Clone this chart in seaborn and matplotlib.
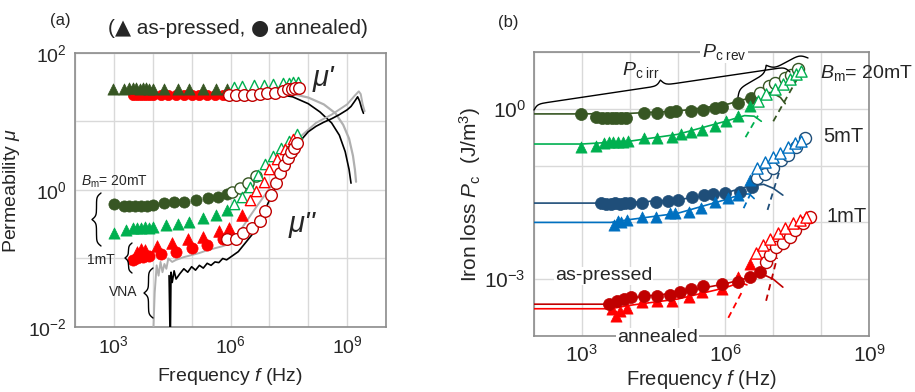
import numpy as np
import pandas as pd
import matplotlib
matplotlib.use("Agg")
import matplotlib.pyplot as plt
import seaborn as sns
from matplotlib.ticker import FixedLocator, FuncFormatter, NullLocator
from matplotlib.offsetbox import TextArea, HPacker, AnnotationBbox

# ---------------- DATA (log10 of frequency / value) -------------
# Panel (a): permeability
# mu' (real part)
mu1_ap_f = [2.97, 3.26, 3.38, 3.5, 3.58, 3.66, 3.74, 3.82, 3.9, 4.0, 4.28, 4.64, 4.92, 5.28, 5.62, 5.92]
mu1_ap_v = [1.48, 1.48, 1.49, 1.49, 1.49, 1.48, 1.49, 1.49, 1.48, 1.48, 1.48, 1.48, 1.48, 1.48, 1.48, 1.48]
mu1_ap_open_f = [6.08, 6.3, 6.6, 6.85, 7.1, 7.35, 7.5, 7.62, 7.74]
mu1_ap_open_v = [1.50, 1.52, 1.53, 1.54, 1.55, 1.56, 1.56, 1.57, 1.57]
mu1_an_f = [3.5, 3.6, 3.7, 3.8, 3.9, 4.0, 4.2, 4.4, 4.6, 4.8, 5.0, 5.2, 5.4, 5.6, 5.8, 6.0]
mu1_an_v = [1.39, 1.39, 1.39, 1.39, 1.39, 1.39, 1.39, 1.39, 1.39, 1.39, 1.39, 1.39, 1.39, 1.39, 1.39, 1.39]
mu1_an_open_f = [5.95, 6.15, 6.35, 6.55, 6.75, 6.95, 7.15, 7.35, 7.47, 7.57, 7.66, 7.75]
mu1_an_open_v = [1.38, 1.38, 1.39, 1.39, 1.40, 1.41, 1.42, 1.45, 1.47, 1.48, 1.49, 1.49]
# mu'' (imaginary part) 20 mT annealed / as-pressed
mu2_an20_f = [3.0, 3.26, 3.4, 3.55, 3.7, 3.85, 4.0, 4.28, 4.54, 4.8, 5.1, 5.41, 5.67, 5.92]
mu2_an20_v = [-0.2, -0.23, -0.23, -0.23, -0.23, -0.23, -0.22, -0.19, -0.18, -0.17, -0.15, -0.12, -0.1, -0.06]
mu2_an20_open_f = [6.05, 6.25, 6.45, 6.65]
mu2_an20_open_v = [-0.03, 0.03, 0.1, 0.2]
mu2_ap20_f = [3.0, 3.3, 3.5, 3.6, 3.7, 3.8, 3.9, 4.0, 4.33, 4.64, 4.92, 5.28, 5.62, 5.92]
mu2_ap20_v = [-0.63, -0.58, -0.56, -0.55, -0.55, -0.54, -0.55, -0.54, -0.51, -0.49, -0.46, -0.41, -0.36, -0.29]
mu2_ap20_open_f = [6.1, 6.3, 6.5, 6.7, 6.9, 7.1, 7.3, 7.5, 7.7]
mu2_ap20_open_v = [-0.2, -0.1, 0.05, 0.22, 0.38, 0.5, 0.62, 0.72, 0.82]
# mu'' 1 mT
mu2_ap1_f = [3.6, 3.7, 3.8, 4.1, 4.5, 4.9, 5.3, 5.7, 5.95, 6.3]
mu2_ap1_v = [-0.9, -0.86, -0.88, -0.82, -0.78, -0.72, -0.68, -0.6, -0.56, -0.36]
mu2_ap1_open_f = [6.5, 6.65, 6.85, 7.0, 7.2, 7.4, 7.6]
mu2_ap1_open_v = [-0.15, -0.02, 0.12, 0.3, 0.45, 0.6, 0.75]
mu2_an1_f = [3.5, 3.6, 3.75, 3.9, 4.2, 4.6, 5.0, 5.4, 5.8]
mu2_an1_v = [-1.02, -1.0, -0.98, -0.97, -0.94, -0.9, -0.85, -0.8, -0.72]
mu2_an1_open_f = [5.92, 6.13, 6.33, 6.56, 6.77, 6.9, 7.03, 7.16, 7.28, 7.38, 7.48, 7.56, 7.64, 7.72]
mu2_an1_open_v = [-0.72, -0.72, -0.63, -0.55, -0.45, -0.3, -0.08, 0.1, 0.25, 0.36, 0.46, 0.55, 0.62, 0.69]
# VNA curves
vna_mu1_blk_f = [7.2, 7.6, 8.0, 8.3, 8.6, 8.8, 8.95, 9.05, 9.1]
vna_mu1_blk_v = [1.40, 1.36, 1.26, 1.14, 0.98, 0.8, 0.56, 0.3, 0.1]
vna_mu1_gry_f = [7.2, 7.6, 8.0, 8.4, 8.7, 8.9, 9.05, 9.15, 9.2, 9.23]
vna_mu1_gry_v = [1.42, 1.40, 1.35, 1.25, 1.12, 0.95, 0.75, 0.5, 0.3, 0.12]
vna_mu2_blk_f = [4.42, 4.45, 4.47, 4.5, 4.55, 4.6, 4.7, 4.8, 4.9, 5.0, 5.1, 5.2, 5.3, 5.4, 5.5,
                 5.6, 5.7, 5.8, 5.9, 6.0, 6.2, 6.4, 6.6, 6.8, 7.0, 7.2, 7.4, 7.6, 7.8, 8.0,
                 8.2, 8.4, 8.6, 8.8, 9.0, 9.1, 9.2, 9.27, 9.32, 9.38, 9.42]
vna_mu2_blk_v = [-1.25, -2.3, -1.2, -1.35, -1.18, -1.3, -1.22, -1.15, -1.2, -1.12, -1.17, -1.1, -1.14, -1.07, -1.1,
                 -1.05, -1.06, -1.0, -1.02, -0.98, -0.9, -0.76, -0.62, -0.4, -0.15, 0.08, 0.3, 0.52, 0.72, 0.85,
                 0.93, 0.99, 1.04, 1.1, 1.17, 1.22, 1.3, 1.36, 1.3, 1.18, 1.12]
vna_mu2_gry_f = [4.0, 4.05, 4.1, 4.15, 4.2, 4.25, 4.3, 4.35, 4.4, 4.5, 4.6, 4.8, 5.0, 5.2, 5.4,
                 5.6, 5.8, 6.0, 6.3, 6.6, 7.0, 7.4, 7.8, 8.2, 8.6, 9.0, 9.2, 9.3, 9.35, 9.4, 9.45]
vna_mu2_gry_v = [-2.3, -1.5, -1.1, -1.25, -1.05, -1.2, -1.08, -1.15, -1.0, -1.05, -1.02, -0.98, -0.95, -0.92, -0.88,
                 -0.85, -0.82, -0.78, -0.55, -0.3, 0.02, 0.35, 0.78, 0.98, 1.1, 1.25, 1.38, 1.44, 1.4, 1.25, 1.15]

# Panel (b): iron loss
pc20_an_f = [2.98, 3.29, 3.42, 3.52, 3.62, 3.72, 3.82, 3.92, 4.29, 4.56, 4.85, 4.96, 5.29, 5.54, 5.79, 5.92, 6.27, 6.54]
pc20_an_v = [-0.1, -0.15, -0.17, -0.17, -0.17, -0.17, -0.17, -0.16, -0.08, -0.07, -0.05, -0.04, -0.03, -0.02, 0.02, 0.04, 0.1, 0.19]
pc20_an_open_f = [6.73, 6.9, 7.04, 7.25, 7.38, 7.52]
pc20_an_open_v = [0.28, 0.4, 0.45, 0.54, 0.6, 0.7]
pc20_ap_f = [2.98, 3.29, 3.46, 3.56, 3.66, 3.76, 3.86, 3.96, 4.29, 4.56, 4.88, 5.08, 5.29, 5.5, 5.79, 6.02, 6.27, 6.52]
pc20_ap_v = [-0.68, -0.65, -0.6, -0.59, -0.59, -0.58, -0.58, -0.57, -0.52, -0.52, -0.5, -0.44, -0.41, -0.38, -0.3, -0.21, -0.12, 0.05]
pc20_ap_open_f = [6.69, 6.85, 7.04, 7.2, 7.35, 7.48, 7.58]
pc20_ap_open_v = [0.14, 0.26, 0.35, 0.43, 0.52, 0.61, 0.66]
pc5_an_f = [3.4, 3.5, 3.6, 3.7, 3.8, 3.9, 4.0, 4.25, 4.55, 4.8, 5.0, 5.3, 5.55, 5.75, 6.0, 6.3, 6.55]
pc5_an_v = [-1.66, -1.68, -1.67, -1.66, -1.67, -1.66, -1.65, -1.66, -1.64, -1.62, -1.6, -1.56, -1.52, -1.5, -1.48, -1.46, -1.38]
pc5_an_open_f = [6.65, 6.83, 7.0, 7.17, 7.31, 7.48, 7.67]
pc5_an_open_v = [-1.22, -1.14, -1.05, -0.91, -0.82, -0.68, -0.51]
pc5_ap_f = [3.67, 3.75, 3.81, 3.94, 4.25, 4.54, 4.85, 4.95, 5.23, 5.48, 5.79, 6.06, 6.27, 6.52]
pc5_ap_v = [-2.04, -1.98, -1.99, -1.95, -1.9, -1.9, -1.83, -1.84, -1.81, -1.75, -1.64, -1.57, -1.52, -1.26]
pc5_ap_open_f = [6.65, 6.83, 7.0, 7.15, 7.31, 7.46, 7.58]
pc5_ap_open_v = [-1.05, -0.94, -0.85, -0.77, -0.68, -0.61, -0.56]
pc1_an_f = [3.56, 3.73, 3.88, 4.02, 4.29, 4.56, 4.85, 5.06, 5.29, 5.54, 5.92, 6.27, 6.52, 6.73]
pc1_an_v = [-3.44, -3.39, -3.35, -3.32, -3.3, -3.3, -3.27, -3.23, -3.18, -3.12, -3.09, -3.05, -2.97, -2.88]
pc1_an_open_f = [6.85, 6.94, 7.06, 7.2, 7.35, 7.46, 7.63, 7.77]
pc1_an_open_v = [-2.7, -2.57, -2.44, -2.36, -2.25, -2.13, -2.01, -1.9]
pc1_ap_f = [3.62, 3.71, 3.8, 3.94, 4.25, 4.56, 4.88, 5.23, 5.5, 5.92, 6.27, 6.52]
pc1_ap_v = [-3.52, -3.64, -3.56, -3.5, -3.4, -3.39, -3.39, -3.32, -3.23, -3.18, -2.97, -2.74]
pc1_ap_open_f = [6.63, 6.79, 6.94, 7.1, 7.25, 7.42, 7.56, 7.69]
pc1_ap_open_v = [-2.53, -2.39, -2.3, -2.18, -2.09, -2.01, -1.95, -1.9]
# fitted curves (solid) and Pc_rev fits (dashed)
fit20_an_f = [2.0, 3.0, 4.0, 5.0, 6.0, 6.5, 6.8, 7.0, 7.15, 7.25]
fit20_an_v = [-0.09, -0.09, -0.08, -0.04, 0.07, 0.19, 0.27, 0.27, 0.2, 0.09]
fit20_ap_f = [2.0, 3.0, 4.0, 5.0, 6.0, 6.4, 6.6, 6.75]
fit20_ap_v = [-0.62, -0.62, -0.57, -0.45, -0.22, -0.12, -0.13, -0.22]
fit5_an_f = [2.0, 3.4, 4.0, 5.0, 6.0, 6.5, 6.8, 7.0, 7.2]
fit5_an_v = [-1.66, -1.66, -1.65, -1.6, -1.48, -1.36, -1.33, -1.4, -1.52]
fit5_ap_f = [2.0, 3.6, 4.0, 5.0, 6.0, 6.35, 6.5, 6.6]
fit5_ap_v = [-2.0, -2.0, -1.95, -1.84, -1.6, -1.5, -1.5, -1.58]
fit1_an_f = [2.0, 3.5, 4.0, 5.0, 6.0, 6.5, 6.8, 7.0, 7.2]
fit1_an_v = [-3.44, -3.44, -3.33, -3.24, -3.08, -2.97, -2.92, -3.0, -3.14]
fit1_ap_f = [2.0, 3.6, 4.0, 5.0, 6.0, 6.3, 6.45]
fit1_ap_v = [-3.52, -3.52, -3.46, -3.35, -3.15, -3.06, -3.1]
rev20_ap_f = [6.42, 6.68]
rev20_ap_v = [-0.5, -0.12]
rev20_an_f = [7.0, 7.55]
rev20_an_v = [-0.22, 0.6]
rev5_ap_f = [6.38, 6.55]
rev5_ap_v = [-1.75, -1.45]
rev5_an_f = [6.88, 7.12]
rev5_an_v = [-1.78, -1.12]
rev1_ap_f = [6.06, 6.36]
rev1_ap_v = [-3.68, -3.2]
rev1_an_f = [6.85, 7.08]
rev1_an_v = [-3.38, -2.62]

# ---------------- STYLE ----------------
DKGREEN = "#375623"
GREEN = "#00B050"
RED = "#FF0000"
DKRED = "#C00000"
BLUE = "#0070C0"
NAVY = "#1F4E79"
LIB = ["Liberation Sans", "DejaVu Sans"]

sns.set_theme(style="white")
plt.rcParams["font.family"] = LIB
plt.rcParams["mathtext.fontset"] = "custom"
plt.rcParams["mathtext.rm"] = "Liberation Sans"
plt.rcParams["mathtext.it"] = "Liberation Sans:italic"
plt.rcParams["mathtext.bf"] = "Liberation Sans:bold"

fig = plt.figure(figsize=(9.15, 3.92), dpi=100)
axA = fig.add_axes([75 / 915, 1 - 327 / 392, 311 / 915, 274 / 392])
axB = fig.add_axes([534 / 915, 1 - 336 / 392, 335 / 915, 284 / 392])


def df(f, v):
    return pd.DataFrame({"f": 10.0 ** np.asarray(f), "v": 10.0 ** np.asarray(v)})


def pts(ax, f, v, color, marker, s, open_=False, z=4):
    d = df(f, v)
    if open_:
        sns.scatterplot(data=d, x="f", y="v", ax=ax, marker=marker, s=s, color="white",
                        edgecolor=color, linewidth=1.0, zorder=z, legend=False)
    else:
        sns.scatterplot(data=d, x="f", y="v", ax=ax, marker=marker, s=s, color=color,
                        edgecolor=color, linewidth=0.5, zorder=z, legend=False)


def line(ax, f, v, color, lw=1.2, ls="-", z=3):
    d = df(f, v)
    sns.lineplot(data=d, x="f", y="v", ax=ax, color=color, lw=lw, ls=ls, sort=False,
                 estimator=None, zorder=z, legend=False)


def style(ax, xl, yl, xdec, ydec, xlab, ylab, fs):
    ax.set_xscale("log")
    ax.set_yscale("log")
    ax.set_xlim(10.0 ** xl[0], 10.0 ** xl[1])
    ax.set_ylim(10.0 ** yl[0], 10.0 ** yl[1])
    ax.xaxis.set_major_locator(FixedLocator([10.0 ** d for d in xdec]))
    ax.yaxis.set_major_locator(FixedLocator([10.0 ** d for d in ydec]))
    ax.xaxis.set_minor_locator(NullLocator())
    ax.yaxis.set_minor_locator(NullLocator())

    def mk(labs):
        def fmt(val, pos):
            e = int(round(np.log10(val)))
            return r"$10^{%d}$" % e if e in labs else ""
        return FuncFormatter(fmt)

    ax.xaxis.set_major_formatter(mk(xlab))
    ax.yaxis.set_major_formatter(mk(ylab))
    ax.grid(True, color="#d9d9d9", lw=1.0)
    ax.set_axisbelow(True)
    ax.tick_params(length=0, labelsize=fs, pad=6)
    for sp in ax.spines.values():
        sp.set_color("#8c8c8c")
        sp.set_linewidth(1.2)


# ---------------- PANEL (a) ----------------
line(axA, vna_mu1_gry_f, vna_mu1_gry_v, "#b0b0b0", lw=1.6)
line(axA, vna_mu1_blk_f, vna_mu1_blk_v, "black", lw=1.2)
line(axA, vna_mu2_gry_f, vna_mu2_gry_v, "#b0b0b0", lw=1.4)
line(axA, vna_mu2_blk_f, vna_mu2_blk_v, "black", lw=1.2)

pts(axA, mu1_an_f, mu1_an_v, RED, "o", 55)
pts(axA, mu1_ap_f, mu1_ap_v, DKGREEN, "^", 65)
pts(axA, mu1_ap_open_f, mu1_ap_open_v, GREEN, "^", 55, open_=True)
pts(axA, mu1_an_open_f, mu1_an_open_v, DKRED, "o", 70, open_=True)

pts(axA, mu2_an20_f, mu2_an20_v, DKGREEN, "o", 65)
pts(axA, mu2_an20_open_f, mu2_an20_open_v, DKGREEN, "o", 65, open_=True)
pts(axA, mu2_ap20_f, mu2_ap20_v, GREEN, "^", 65)
pts(axA, mu2_ap20_open_f, mu2_ap20_open_v, GREEN, "^", 55, open_=True)
pts(axA, mu2_an1_f, mu2_an1_v, RED, "o", 65)
pts(axA, mu2_ap1_f, mu2_ap1_v, RED, "^", 70)
pts(axA, mu2_ap1_open_f, mu2_ap1_open_v, RED, "^", 55, open_=True)
pts(axA, mu2_an1_open_f, mu2_an1_open_v, DKRED, "o", 70, open_=True)

style(axA, (2.0, 10.0), (-2, 2), range(2, 11), range(-2, 3), [3, 6, 9], [-2, 0, 2], 14)
axA.set_xlabel(r"Frequency $f$ (Hz)", fontsize=14, labelpad=6)
axA.set_ylabel(r"Permeability $\mu$", fontsize=14, labelpad=4)

# ---------------- PANEL (b) ----------------
line(axB, fit20_an_f, fit20_an_v, DKGREEN)
line(axB, fit20_ap_f, fit20_ap_v, GREEN)
line(axB, fit5_an_f, fit5_an_v, NAVY)
line(axB, fit5_ap_f, fit5_ap_v, BLUE)
line(axB, fit1_an_f, fit1_an_v, DKRED)
line(axB, fit1_ap_f, fit1_ap_v, RED)
for f, v, c in [(rev20_ap_f, rev20_ap_v, GREEN), (rev20_an_f, rev20_an_v, DKGREEN),
                (rev5_ap_f, rev5_ap_v, BLUE), (rev5_an_f, rev5_an_v, NAVY),
                (rev1_ap_f, rev1_ap_v, RED), (rev1_an_f, rev1_an_v, DKRED)]:
    line(axB, f, v, c, lw=1.3, ls=(0, (3.5, 2.5)))

pts(axB, pc20_an_f, pc20_an_v, DKGREEN, "o", 75)
pts(axB, pc20_ap_f, pc20_ap_v, GREEN, "^", 65)
pts(axB, pc20_an_open_f, pc20_an_open_v, DKGREEN, "o", 75, open_=True)
pts(axB, pc20_ap_open_f, pc20_ap_open_v, GREEN, "^", 65, open_=True)
pts(axB, pc5_an_f, pc5_an_v, NAVY, "o", 75)
pts(axB, pc5_ap_f, pc5_ap_v, BLUE, "^", 65)
pts(axB, pc5_an_open_f, pc5_an_open_v, NAVY, "o", 75, open_=True)
pts(axB, pc5_ap_open_f, pc5_ap_open_v, BLUE, "^", 65, open_=True)
pts(axB, pc1_ap_f, pc1_ap_v, RED, "^", 65)
pts(axB, pc1_an_f, pc1_an_v, DKRED, "o", 75)
pts(axB, pc1_an_open_f, pc1_an_open_v, DKRED, "o", 75, open_=True)
pts(axB, pc1_ap_open_f, pc1_ap_open_v, RED, "^", 65, open_=True)

style(axB, (2.0, 9.0), (-4, 1), range(2, 10), range(-4, 2), [3, 6, 9], [-3, 0], 15)
axB.set_xlabel(r"Frequency $f$ (Hz)", fontsize=14.5, labelpad=1)
axB.set_ylabel(r"Iron loss $P_\mathrm{c}$  (J/m$^3$)", fontsize=15, labelpad=1)

# ---------------- ANNOTATION OVERLAY (pixel coordinates) ----------------
ov = fig.add_axes([0, 0, 1, 1], zorder=10)
ov.set_xlim(0, 915)
ov.set_ylim(392, 0)
ov.axis("off")
ov.patch.set_alpha(0)


def brace(p0, p1, depth, lw=1.0, color="black"):
    p0 = np.asarray(p0, float)
    p1 = np.asarray(p1, float)
    v = p1 - p0
    L = np.hypot(*v)
    u = v / L
    n = np.array([-u[1], u[0]])
    half = L / 2
    s = np.linspace(0, half, 120)
    b = 5.0 / abs(depth)
    h = 1 / (1 + np.exp(-b * s)) + 1 / (1 + np.exp(-b * (s - half)))
    h = (h - h[0]) / (h[-1] - h[0])
    S = np.concatenate([s, L - s[-2::-1]])
    H = np.concatenate([h, h[-2::-1]])
    P = p0[None, :] + S[:, None] * u[None, :] + depth * H[:, None] * n[None, :]
    ov.plot(P[:, 0], P[:, 1], color=color, lw=lw)


# panel (a) annotations
ov.text(60, 20, "(a)", fontsize=12, ha="center", va="center")
title_parts = [("(", LIB), ("\u25B2", ["DejaVu Sans"]), (" as-pressed, ", LIB),
               ("\u25CF", ["DejaVu Sans"]), (" annealed)", LIB)]
hp = HPacker(children=[TextArea(t, textprops=dict(fontsize=15, family=fam)) for t, fam in title_parts],
             align="baseline", pad=0, sep=0)
ov.add_artist(AnnotationBbox(hp, (238, 28), xycoords="data", frameon=False,
                             box_alignment=(0.5, 0.5), pad=0))
ov.text(323, 78, "\u03bc'", fontsize=21, style="italic", ha="center", va="center")
ov.text(302, 224, "\u03bc''", fontsize=21, style="italic", ha="center", va="center")
ov.text(81, 182, r"$B_\mathrm{m}$= 20mT", fontsize=10, ha="left", va="center")
ov.text(101, 260, "1mT", fontsize=10, ha="center", va="center")
ov.text(123, 292, "VNA", fontsize=10, ha="center", va="center")
brace((101, 193), (101, 246), 9)
brace((132, 243), (132, 273), 7)
brace((153, 268), (153, 318), 9)

# panel (b) annotations
ov.text(508, 22, "(b)", fontsize=12, ha="center", va="center")
ov.text(820, 73, r"$B_\mathrm{m}$= 20mT", fontsize=14, ha="left", va="center")
ov.text(823, 136, "5mT", fontsize=14.5, ha="left", va="center")
ov.text(827, 216, "1mT", fontsize=14.5, ha="left", va="center")
ov.text(555, 276, "as-pressed", fontsize=14, ha="left", va="center",
        bbox=dict(fc="white", ec="none", pad=0.5))
ov.text(617, 338, "annealed", fontsize=14, ha="left", va="center",
        bbox=dict(fc="white", ec="none", pad=1.0))
ov.text(641, 70, r"$P_{\mathrm{c}\ \mathrm{irr}}$", fontsize=14, ha="center", va="center")
ov.text(724, 52, r"$P_{\mathrm{c}\ \mathrm{rev}}$", fontsize=14, ha="center", va="center",
        bbox=dict(fc="white", ec="none", pad=1.0))
brace((534, 110), (790, 72), -11)
brace((738, 97), (808, 58), -14)

fig.savefig("out.png", dpi=100)
